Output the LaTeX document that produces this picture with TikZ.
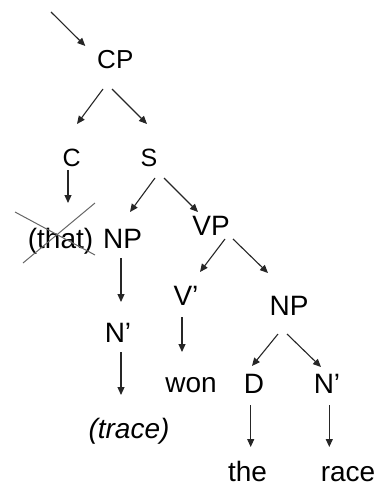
\documentclass[tikz,border=0pt]{standalone}
\usepackage{fontspec}
\setmainfont{Liberation Sans}
\usetikzlibrary{arrows.meta,calc}
\newcommand\sizedtext[1]{\fontsize{#1}{#1}\selectfont}
\begin{document}
\begin{tikzpicture}[x=1pt,y=-1pt,
  lbl/.style={anchor=base,inner sep=0pt,font=\sizedtext{28}},
  lblcat/.style={anchor=base,inner sep=0pt,font=\sizedtext{25}},
  lblroot/.style={anchor=base,inner sep=0pt,font=\sizedtext{26}},
  arr/.style={draw=black!85,line width=1.1pt,-{Triangle[length=8pt,width=7pt]}},
  strike/.style={draw=black!60,line width=1pt}]
\useasboundingbox (0,0) rectangle (381,487);
% tree labels (placed on their baselines)
\node[lblroot] (CP)    at (115.3,69)  {CP};
\node[lblcat]  (C)     at (71.7,166.7){C};
\node[lblcat]  (S)     at (149,166)   {S};
\node[lbl]     (that)  at (60.5,248)  {(that)};
\node[lbl]     (NPa)   at (122.5,248) {NP};
\node[lbl]     (VP)    at (211,235)   {VP};
\node[lbl]     (Vbar)  at (186,305)   {V’};
\node[lbl]     (NPb)   at (289,315)   {NP};
\node[lbl]     (Nbara) at (118,342)   {N’};
\node[lbl]     (won)   at (191,392.7) {won};
\node[lbl]     (D)     at (254,393)   {D};
\node[lbl]     (Nbarb) at (327,393)   {N’};
\node[lbl]     (trace) at (129,438)   {\itshape (trace)};
\node[lbl]     (the)   at (247.5,481.7){the};
\node[lbl]     (race)  at (348,481.7) {race};
\coordinate (entry) at (51,12);
% branches
\draw[arr] (entry) -- ($(CP.base)+(-30,-23)$);
\draw[arr] ($(CP.base)+(-12.3,20)$) -- ($(C.base)+(5.3,-42.7)$);
\draw[arr] ($(CP.base)+(-3.3,20)$) -- ($(S.base)+(-2,-42)$);
\draw[arr] ($(C.base)+(-3.7,3.3)$) -- ($(that.base)+(7.5,-45)$);
\draw[arr] ($(S.base)+(6,12)$) -- ($(NPa.base)+(7.5,-36)$);
\draw[arr] ($(S.base)+(15,12)$) -- ($(VP.base)+(-13,-23)$);
\draw[arr] ($(NPa.base)+(-1.5,10)$) -- ($(Nbara.base)+(3,-40)$);
\draw[arr] ($(Nbara.base)+(3,10)$) -- ($(trace.base)+(-8,-43)$);
\draw[arr] ($(VP.base)+(14,4)$) -- ($(Vbar.base)+(14,-33)$);
\draw[arr] ($(VP.base)+(22,4)$) -- ($(NPb.base)+(-21,-42)$);
\draw[arr] ($(Vbar.base)+(-4,12)$) -- ($(won.base)+(-9,-40.7)$);
\draw[arr] ($(NPb.base)+(-11,19)$) -- ($(D.base)+(-2,-27)$);
\draw[arr] ($(NPb.base)+(-2,19)$) -- ($(Nbarb.base)+(-6,-26)$);
\draw[arr] ($(D.base)+(-3.3,12)$) -- ($(the.base)+(3.2,-34.7)$);
\draw[arr] ($(Nbarb.base)+(2.3,12)$) -- ($(race.base)+(-18.7,-34.7)$);
% crossed-out complementiser
\draw[strike] ($(that.base)+(-45.5,-36)$) -- ($(that.base)+(34.5,7)$);
\draw[strike] ($(that.base)+(-37.5,15)$) -- ($(that.base)+(34.5,-45)$);
\end{tikzpicture}
\end{document}
